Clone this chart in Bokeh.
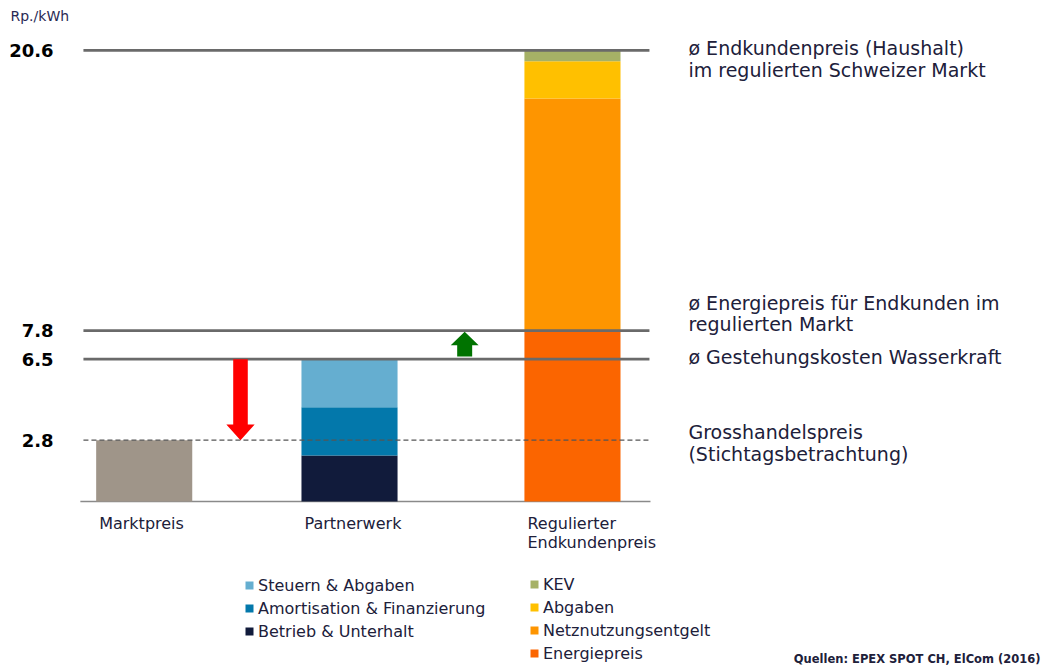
from bokeh.plotting import figure
from bokeh.models import Range1d, FixedTicker, Legend, LegendItem, ColumnDataSource
from bokeh.core.properties import value
from bokeh.embed import file_html
from bokeh.resources import INLINE

# ---------------- data ----------------
categories = ["Marktpreis", "Partnerwerk", "Regulierter\nEndkundenpreis"]
marktpreis_value = 2.8
partner_parts = ["Betrieb & Unterhalt", "Amortisation & Finanzierung", "Steuern & Abgaben"]
partner_values = [2.1, 2.2, 2.2]
reg_parts = ["Energiepreis", "Netznutzungsentgelt", "Abgaben", "KEV"]
reg_values = [7.8, 10.6, 1.7, 0.5]
endkundenpreis = 20.6
energiepreis_endkunden = 7.8
gestehungskosten = 6.5
grosshandelspreis = 2.8
tick_values = [2.8, 6.5, 7.8, 20.6]
tick_labels = ["2.8", "6.5", "7.8", "20.6"]
annot_values = [20.6, 20.6, 7.8, 7.8, 6.5, 2.8, 2.8]
annot_texts = ["ø Endkundenpreis (Haushalt)", "im regulierten Schweizer Markt",
               "ø Energiepreis für Endkunden im", "regulierten Markt",
               "ø Gestehungskosten Wasserkraft",
               "Grosshandelspreis", "(Stichtagsbetrachtung)"]
unit_label = "Rp./kWh"
source_note = "Quellen: EPEX SPOT CH, ElCom (2016)"

# ---------------- styles / layout ----------------
FONT = "DejaVu Sans"
TXT = "#20203a"
markt_color = "#9f9589"
partner_colors = ["#111b3b", "#0378ab", "#65aed0"]
reg_colors = ["#fb6500", "#fe9500", "#ffc000", "#a6b166"]
line_color = "#6a6a6a"

PX = 205.3                      # pixels per x unit
cat_x = [0.0, 1.0, 2.086]
BAR_W = 0.468
LINE_X0, LINE_X1 = -0.296, 2.461
TEXT_X = 2.651
annot_offsets = [-2, 20, -28, -7, -2, -8, 14]
X0, X1 = -0.700, 4.395
Y0, Y1 = -7.671, 22.877

W, H = 1046, 669
p = figure(width=W, height=H, output_backend="svg", toolbar_location=None,
           x_range=Range1d(X0, X1), y_range=Range1d(Y0, Y1),
           min_border=0, min_border_left=0, min_border_right=0,
           min_border_top=0, min_border_bottom=0)
p.outline_line_color = None
p.grid.visible = False
p.background_fill_color = "white"

# y axis (tick labels) fixed inside frame
ya = p.yaxis[0]
ya.fixed_location = -0.31
ya.ticker = FixedTicker(ticks=tick_values)
ya.major_label_overrides = {v: s for v, s in zip(tick_values, tick_labels)}
ya.axis_line_color = None
ya.major_tick_line_color = None
ya.minor_tick_line_color = None
ya.major_tick_out = 0
ya.major_tick_in = 0
ya.minor_tick_out = 0
ya.major_label_standoff = 27
ya.major_label_text_font = FONT
ya.major_label_text_font_style = "bold"
ya.major_label_text_font_size = "18px"
ya.major_label_text_color = "#000000"

# x axis hidden; category labels as text under the bars
xa = p.xaxis[0]
xa.fixed_location = 0
xa.visible = False

p.text(x=[x - BAR_W / 2 + 3 / PX for x in cat_x], y=[0] * len(cat_x), text=categories,
       y_offset=[12] * len(cat_x), text_font=value(FONT), text_font_size="16px",
       text_color=TXT, text_baseline="top", text_align="left", text_line_height=1.05)

# baseline
p.segment(x0=[LINE_X0 - 0.015], x1=[LINE_X1 + 0.005], y0=[0], y1=[0],
          line_color="#8a8a8a", line_width=1.5)

# bars
p.vbar(x=[cat_x[0]], bottom=[0], top=[marktpreis_value], width=BAR_W,
       fill_color=markt_color, line_color=None)

partner_r = []
b = 0.0
for v, c in zip(partner_values, partner_colors):
    r = p.vbar(x=[cat_x[1]], bottom=[b], top=[b + v], width=BAR_W, fill_color=c, line_color=None)
    partner_r.append(r)
    b += v

reg_r = []
b = 0.0
for v, c in zip(reg_values, reg_colors):
    r = p.vbar(x=[cat_x[2]], bottom=[b], top=[b + v], width=BAR_W, fill_color=c, line_color=None)
    reg_r.append(r)
    b += v

# reference lines
solid = [endkundenpreis, energiepreis_endkunden, gestehungskosten]
p.segment(x0=[LINE_X0] * 3, x1=[LINE_X1] * 3, y0=solid, y1=solid,
          line_color=line_color, line_width=2.8)
p.segment(x0=[LINE_X0], x1=[LINE_X1], y0=[grosshandelspreis], y1=[grosshandelspreis],
          line_color="#555555", line_width=1.3, line_dash="5 3")

# arrows
def arrow(xc, y0, y1, shaft_w, head_w, head_len):
    d = 1 if y1 > y0 else -1
    yh = y1 - d * head_len
    xs = [xc - shaft_w / 2, xc + shaft_w / 2, xc + shaft_w / 2, xc + head_w / 2,
          xc, xc - head_w / 2, xc - shaft_w / 2]
    ys = [y0, y0, yh, yh, y1, yh, yh]
    return xs, ys

rx, ry = arrow(0.469, gestehungskosten, grosshandelspreis, 0.071, 0.138, 0.72)
gx, gy = arrow(1.561, gestehungskosten + 0.12, energiepreis_endkunden - 0.05, 0.073, 0.136, 0.62)
p.patch(rx, ry, fill_color="#ff0000", line_color=None)
p.patch(gx, gy, fill_color="#007300", line_color=None)

# right-hand annotations
src = ColumnDataSource(dict(x=[TEXT_X] * len(annot_texts), y=annot_values,
                            t=annot_texts, o=annot_offsets))
p.text(x="x", y="y", text="t", y_offset="o", source=src, text_font=value(FONT),
       text_font_size="19px", text_color=TXT, text_baseline="middle", text_align="left")

# unit label
p.text(x=[X0 + 10 / PX], y=[endkundenpreis], text=[unit_label], y_offset=[-34],
       text_font=value(FONT), text_font_size="14px", text_color="#2a2a55",
       text_baseline="middle", text_align="left")

# source note
p.text(x=[X1 - 6 / PX], y=[Y0], text=[source_note], y_offset=[-4],
       text_font=value(FONT), text_font_size="11.5px", text_font_style="bold",
       text_color=TXT, text_baseline="bottom", text_align="right")

# legends
common = dict(orientation="vertical", glyph_width=10, glyph_height=10,
              label_text_font=FONT, label_text_font_size="16px", label_text_color=TXT,
              label_standoff=4, spacing=3, padding=0, margin=0, label_height=20,
              border_line_color=None, background_fill_alpha=0)
leg_left = Legend(items=[LegendItem(label=partner_parts[i], renderers=[partner_r[i]]) for i in (2, 1, 0)],
                  location=(244, 28), **common)
leg_right = Legend(items=[LegendItem(label=reg_parts[i], renderers=[reg_r[i]]) for i in (3, 2, 1, 0)],
                   location=(529, 6), **common)
p.add_layout(leg_left)
p.add_layout(leg_right)

open("out.html", "w").write(file_html(p, INLINE))
